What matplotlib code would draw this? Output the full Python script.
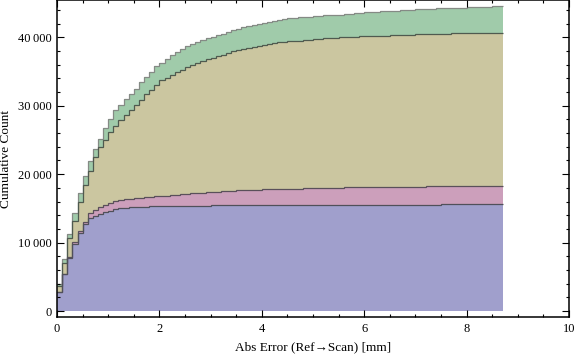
import numpy as np
import matplotlib.pyplot as plt
from matplotlib.ticker import MultipleLocator, FuncFormatter

# cumulative counts per 0.1 mm bin, stacked totals (bottom layer first)
blue = [2730, 5380, 7720, 9780, 11340, 12700, 13600, 13950, 14200, 14420,
        14650, 14850, 14990, 15080, 15140, 15190, 15230, 15260, 15290, 15310,
        15330, 15340, 15350, 15360, 15380, 15390, 15400, 15410, 15420, 15420,
        15430, 15430, 15440, 15450, 15450, 15460, 15460, 15470, 15480, 15480,
        15490, 15490, 15500, 15500, 15500, 15510, 15510, 15510, 15520, 15520,
        15520, 15520, 15530, 15530, 15530, 15530, 15540, 15540, 15540, 15540,
        15540, 15550, 15550, 15550, 15550, 15550, 15550, 15560, 15560, 15560,
        15560, 15560, 15560, 15560, 15560, 15570, 15570, 15570, 15570, 15570,
        15570, 15570, 15570, 15570, 15570, 15570, 15570]
pink = [2760, 5430, 7930, 10030, 11700, 13040, 14260, 14800, 15200, 15480,
        15800, 16050, 16250, 16350, 16420, 16480, 16560, 16600, 16680, 16740,
        16800, 16870, 16920, 16960, 17050, 17080, 17200, 17250, 17280, 17350,
        17380, 17400, 17480, 17510, 17540, 17620, 17650, 17670, 17700, 17740,
        17760, 17780, 17800, 17820, 17840, 17860, 17880, 17900, 17920, 17950,
        17980, 18000, 18010, 18020, 18040, 18050, 18060, 18070, 18080, 18090,
        18100, 18110, 18130, 18150, 18160, 18165, 18170, 18175, 18180, 18185,
        18190, 18195, 18200, 18205, 18210, 18215, 18220, 18225, 18230, 18235,
        18240, 18240, 18245, 18245, 18250, 18250, 18250]
olive = [3700, 6960, 10610, 13100, 15900, 18400, 20500, 22530, 23990, 24970,
         26180, 27010, 27890, 28620, 29350, 30170, 30900, 31680, 32370, 33000,
         33730, 34070, 34560, 34940, 35290, 35670, 35960, 36250, 36550, 36890,
         37040, 37330, 37470, 37770, 37960, 38110, 38300, 38450, 38600, 38790,
         38840, 38980, 39180, 39270, 39330, 39400, 39470, 39530, 39600, 39660,
         39720, 39780, 39840, 39900, 39950, 39990, 40030, 40070, 40110, 40150,
         40170, 40190, 40210, 40230, 40250, 40270, 40300, 40330, 40360, 40390,
         40420, 40450, 40480, 40510, 40540, 40550, 40555, 40560, 40565, 40570,
         40575, 40580, 40585, 40590, 40595, 40600, 40600]
green = [4000, 7550, 11200, 14260, 17180, 19700, 21900, 23750, 25210, 26760,
         28130, 29350, 30170, 31000, 31780, 32510, 33430, 34210, 34940, 35770,
         36300, 36890, 37470, 37860, 38350, 38690, 39030, 39270, 39570, 39860,
         40050, 40340, 40540, 40730, 41030, 41270, 41510, 41710, 41860, 42000,
         42150, 42300, 42440, 42590, 42680, 42760, 42840, 42900, 42970, 43030,
         43090, 43140, 43190, 43230, 43260, 43320, 43380, 43450, 43520, 43590,
         43650, 43700, 43750, 43790, 43830, 43870, 43910, 43950, 43990, 44030,
         44070, 44110, 44150, 44200, 44240, 44260, 44280, 44300, 44320, 44340,
         44360, 44380, 44400, 44430, 44480, 44510, 44530]
bin_width = 0.1

layers = [
    (green, "#a0cbaa", "#858a85"),
    (olive, "#cbc6a0", "#4f5a4f"),
    (pink, "#cc9fbb", "#5a505a"),
    (blue, "#a09fcc", "#50505a"),
]

plt.rcParams["font.family"] = ["Liberation Serif", "DejaVu Serif"]
fig = plt.figure(figsize=(5.76, 3.57), dpi=100)
ax = fig.add_axes([0.099, 0.112, 0.889, 0.887])

edges = np.arange(len(blue) + 1) * bin_width
for vals, fc, ec in layers:
    ax.stairs(vals, edges, fill=True, color=fc, linewidth=0)
for vals, fc, ec in layers:
    ax.stairs(vals, edges, baseline=None, color=ec, linewidth=0.9)

ax.set_xlim(0, 10)
ax.set_ylim(-876, 45400)
ax.xaxis.set_major_locator(MultipleLocator(2))
ax.xaxis.set_minor_locator(MultipleLocator(0.5))
ax.yaxis.set_major_locator(MultipleLocator(10000))
ax.yaxis.set_minor_locator(MultipleLocator(2000))
ax.yaxis.set_major_formatter(FuncFormatter(
    lambda v, p: "0" if v == 0 else f"{int(v):,}".replace(",", "\u2009")))
ax.tick_params(which="both", direction="in", top=True, right=True,
               labelsize=9, pad=4, width=0.8)
ax.tick_params(which="major", length=5)
ax.tick_params(which="minor", length=2.5)
for s in ax.spines.values():
    s.set_linewidth(1.1)

ax.set_xlabel("Abs Error (Ref\u2192Scan) [mm]", fontsize=9.5, labelpad=5)
ax.set_ylabel("Cumulative Count", fontsize=9.5, labelpad=4)

fig.savefig("out.png", dpi=100)
